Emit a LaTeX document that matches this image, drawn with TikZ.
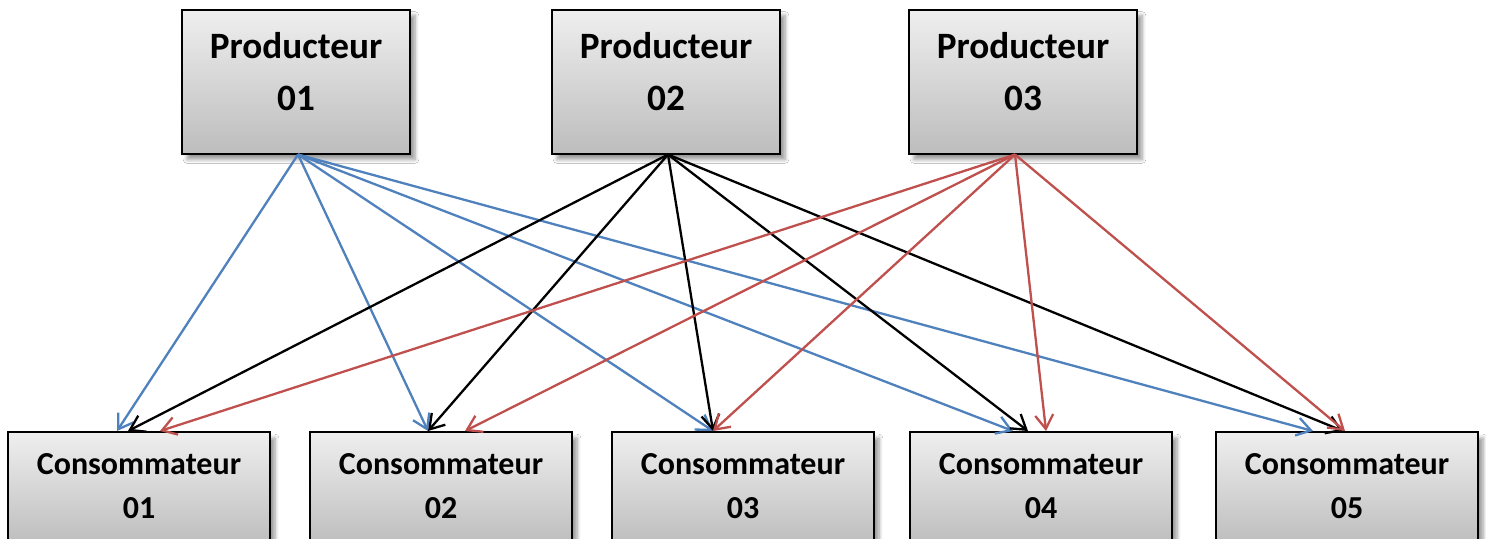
\documentclass[tikz,border=0pt]{standalone}
\usepackage{fontspec}
\setmainfont{Carlito}
\usetikzlibrary{arrows.meta,calc,shadows.blur}
\definecolor{linkblue}{HTML}{4F81BD}
\definecolor{linkred}{HTML}{C0504D}
\definecolor{boxtop}{HTML}{EFEFEF}
\definecolor{boxbottom}{HTML}{BDBDBD}
\begin{document}
\begin{tikzpicture}[x=0.5pt,y=-0.5pt,
  box/.style={draw=black,line width=1pt,top color=boxtop,bottom color=boxbottom,
    inner sep=0pt,
    blur shadow={shadow xshift=2.5pt,shadow yshift=-3pt,shadow blur steps=6,shadow opacity=40}},
  prodbox/.style={box,minimum width=114pt,minimum height=72pt},
  consbox/.style={box,minimum width=131pt,minimum height=56.5pt},
  prodtext/.style={align=center,font=\fontsize{18.6}{26}\selectfont\bfseries,inner sep=0pt},
  constext/.style={align=center,font=\fontsize{16}{22}\selectfont\bfseries,inner sep=0pt},
  link/.style={line width=1.15pt,-{Straight Barb[length=7pt,width=9pt,line width=1.15pt]}},
  bluelink/.style={link,linkblue},
  redlink/.style={link,linkred},
  blacklink/.style={link,black}]
\useasboundingbox (0,0) rectangle (1486,538);
\clip (0,0) rectangle (1486,538);
\fill[white] (0,0) rectangle (1486,538);

% producers
\node[prodbox] (p1) at (296,81.5) {};
\node[prodbox] (p2) at (666,81.5) {};
\node[prodbox] (p3) at (1023,81.5) {};
\node[prodtext] (p1t) at ($(p1.center)+(0,-10)$) {Producteur\\01};
\node[prodtext] (p2t) at ($(p2.center)+(0,-10)$) {Producteur\\02};
\node[prodtext] (p3t) at ($(p3.center)+(0,-10)$) {Producteur\\03};

% consumers (their lower part runs off the page)
\node[consbox] (c1) at (139,488.5) {};
\node[consbox] (c2) at (441,488.5) {};
\node[consbox] (c3) at (743,488.5) {};
\node[consbox] (c4) at (1041,488.5) {};
\node[consbox] (c5) at (1347,488.5) {};
\node[constext] (c1t) at (139,486) {Consommateur\\01};
\node[constext] (c2t) at (441,486) {Consommateur\\02};
\node[constext] (c3t) at (743,486) {Consommateur\\03};
\node[constext] (c4t) at (1041,486) {Consommateur\\04};
\node[constext] (c5t) at (1347,486) {Consommateur\\05};

% where the links leave the producers
\coordinate (o1) at ($(p1.south)+(2,0)$);
\coordinate (o2) at ($(p2.south)+(2,0)$);
\coordinate (o3) at ($(p3.south)+(-8,0)$);

% where the links reach the consumers
\coordinate (b1) at ($(c1.north)+(-22,0)$);
\coordinate (k1) at ($(c1.north)+(-11,0)$);
\coordinate (r1) at ($(c1.north)+(21,0)$);
\coordinate (b2) at ($(c2.north)+(-13,0)$);
\coordinate (k2) at ($(c2.north)+(-13,0)$);
\coordinate (r2) at ($(c2.north)+(24,0)$);
\coordinate (b3) at ($(c3.north)+(-30,0)$);
\coordinate (k3) at ($(c3.north)+(-30,0)$);
\coordinate (r3) at ($(c3.north)+(-30,0)$);
\coordinate (b4) at ($(c4.north)+(-28,0)$);
\coordinate (k4) at ($(c4.north)+(-13,0)$);
\coordinate (r4) at ($(c4.north)+(5,0)$);
\coordinate (b5) at ($(c5.north)+(-34,0)$);
\coordinate (k5) at ($(c5.north)+(-4,0)$);
\coordinate (r5) at ($(c5.north)+(-2,0)$);

\foreach \i in {1,...,5} \draw[bluelink] (o1) -- (b\i);
\foreach \i in {1,...,5} \draw[blacklink] (o2) -- (k\i);
\foreach \i in {1,...,5} \draw[redlink] (o3) -- (r\i);
\end{tikzpicture}
\end{document}
